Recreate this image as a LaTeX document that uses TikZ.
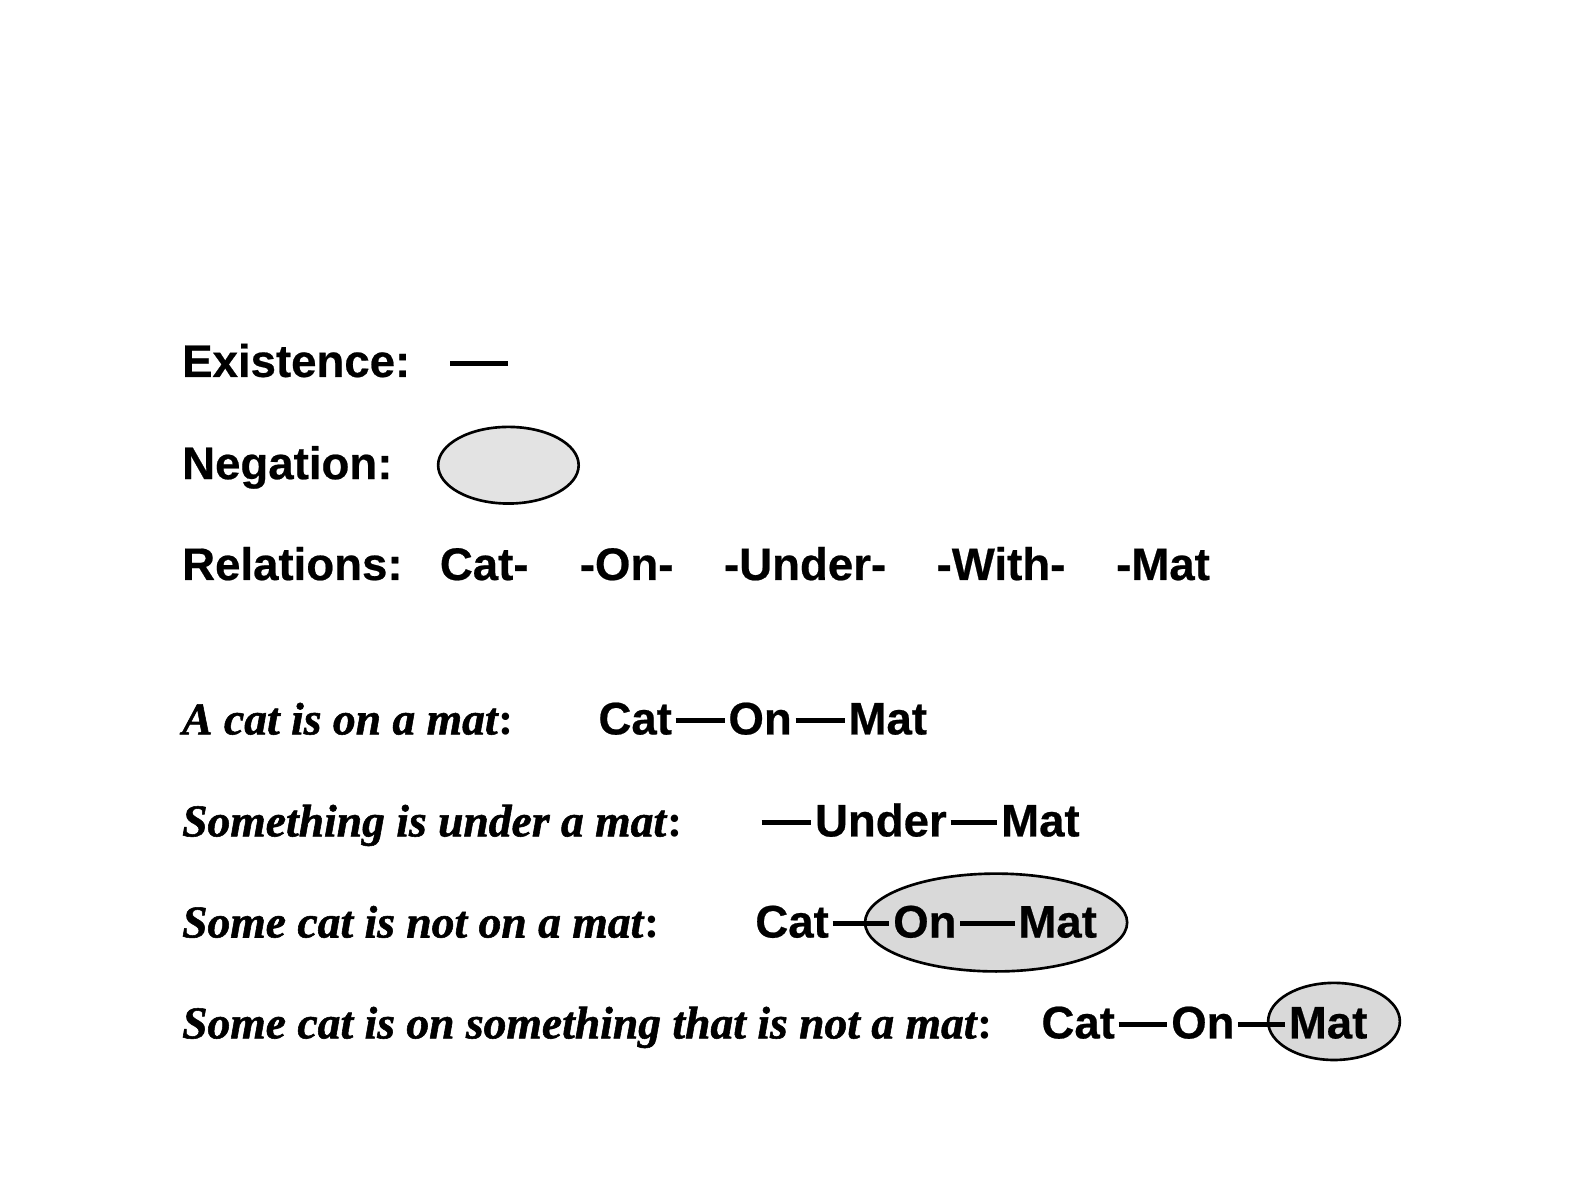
\documentclass[tikz,border=0pt]{standalone}
\usepackage{fontspec}
\setmainfont{Liberation Serif}[BoldItalicFont={Liberation Serif Bold Italic}, BoldItalicFeatures={FakeBold=1.2}]
\setsansfont{Liberation Sans}[BoldFont={Liberation Sans Bold}, BoldFeatures={FakeBold=0.5}]
\usetikzlibrary{shapes.geometric}

\begin{document}
\begin{tikzpicture}[x=1pt, y=-1pt,
    term/.style={font=\sffamily\bfseries\fontsize{20.7}{24}\selectfont, inner xsep=1.5pt, inner ysep=0pt, text height=12.4pt, text depth=0pt, anchor=base west},
    sentence/.style={font=\rmfamily\bfseries\itshape\fontsize{20.7}{24}\selectfont, inner sep=0pt, anchor=base west},
    link/.style={line width=2.2pt},
    negation/.style={ellipse, draw, line width=1.2pt, inner sep=0pt}]
    \useasboundingbox (0,0) rectangle (720,540);

    % Existence
    \node[term] (exist) at (81,171.1) {Existence:};
    \coordinate (existA) at (204.3,164.9);
    \coordinate (existB) at (230.6,164.9);
    \draw[link] (existA) -- (existB);

    % Negation
    \node[term] (negate) at (81,217.5) {Negation:};
    \node[negation, fill=gray!22, minimum width=63.8pt, minimum height=34.8pt] (negoval) at (230.8,211.2) {};

    % Relations
    \node[term] (relate) at (81,263.3) {Relations:};
    \foreach \x/\w/\n in {198/Cat-/relcat, 261.5/-On-/relon, 327/-Under-/relunder, 423.5/-With-/relwith, 505/-Mat/relmat}
        \node[term] (\n) at (\x,263.3) {\w};

    % A cat is on a mat
    \node[sentence] (say1) at (82.5,333.4) {A cat is on a mat\textup{:}};
    \node[term] (cat1) at (270,333.4) {Cat};
    \node[term] (on1) at (329,333.4) {On};
    \node[term] (mat1) at (383.5,333.4) {Mat};
    \draw[link] (cat1) -- (on1) -- (mat1);

    % Something is under a mat
    \node[sentence] (say2) at (82.5,379.7) {Something is under a mat\textup{:}};
    \coordinate (free2) at (345.8,373.5);
    \node[term] (under2) at (368.3,379.7) {Under};
    \node[term] (mat2) at (452.8,379.7) {Mat};
    \draw[link] (free2) -- (under2) -- (mat2);

    % Some cat is not on a mat
    \node[sentence] (say3) at (82.5,425.6) {Some cat is not on a mat\textup{:}};
    \node[negation, fill=gray!30, minimum width=119pt, minimum height=44.4pt] (noton) at (452.2,418.8) {};
    \node[term] (cat3) at (341.2,425.6) {Cat};
    \node[term] (on3) at (403.8,425.6) {On};
    \node[term] (mat3) at (460.6,425.6) {Mat};
    \draw[link] (cat3) -- (on3) -- (mat3);

    % Some cat is on something that is not a mat
    \node[sentence] (say4) at (82.5,471.4) {Some cat is on something that is not a mat\textup{:}};
    \node[negation, fill=gray!30, minimum width=59.8pt, minimum height=35pt] (notmat) at (605.6,463.7) {};
    \node[term] (cat4) at (471.1,471.4) {Cat};
    \node[term] (on4) at (530,471.4) {On};
    \node[term] (mat4) at (583.4,471.4) {Mat};
    \draw[link] (cat4) -- (on4) -- (mat4);
\end{tikzpicture}
\end{document}
